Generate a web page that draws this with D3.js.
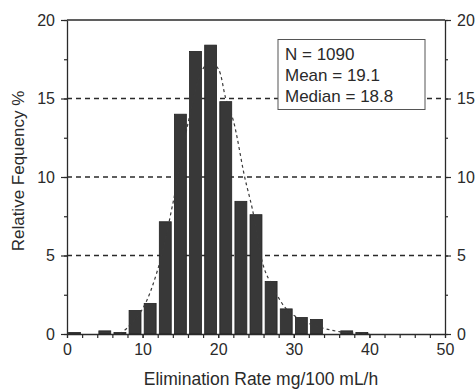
<!DOCTYPE html>
<html>
<head>
<meta charset="utf-8">
<script src="https://cdn.jsdelivr.net/npm/d3@7"></script>
<style>
  body { margin: 0; background: #fff; }
  svg { display: block; font-family: "Liberation Sans", Arial, sans-serif; }
</style>
</head>
<body>
<div class="js-hist"></div>
<script>
// histogram bins (2 mg/100 mL/h wide), centre of each bin
var binCenters = [1, 3, 5, 7, 9, 11, 13, 15, 17, 19, 21, 23, 25, 27, 29, 31, 33, 35, 37, 39];
var binFreq = [0.1, 0, 0.2, 0.1, 1.5, 1.95, 7.15, 14.0, 18.0, 18.4, 14.8, 8.45, 7.6, 3.35, 1.6, 1.05, 0.93, 0, 0.2, 0.1];

// dashed fitted curve
var curveX = [7, 8, 10, 12, 14, 16, 18, 19, 20, 21, 22, 23.5, 24.5, 26, 27, 29, 31, 33, 36, 40];
var curveY = [0, 0.4, 1.6, 4.1, 8.3, 13.4, 16.9, 17.3, 16.9, 15.0, 13.6, 10.0, 8.0, 4.3, 3.2, 1.6, 0.9, 0.5, 0.15, 0];

var xTicksMajor = [0, 10, 20, 30, 40, 50];
var yTicksMajor = [0, 5, 10, 15, 20];
var gridValues = [5, 10, 15];
var statsLines = ["N = 1090", "Mean = 19.1", "Median = 18.8"];

(function() {
  var width = 475
    , height = 390
    , left = 67
    , right = 445
    , top = 20
    , bottom = 334
    , binWidth = 2
    , ink = "#2a2a2a"
    ;

  var x = d3.scaleLinear().domain([0, 50]).range([left, right])
    , y = d3.scaleLinear().domain([0, 20]).range([bottom, top])
    ;

  var svg = d3.select('.js-hist')
        .append('svg')
          .attr('width', width)
          .attr('height', height);

  // dashed grid lines
  svg.append('g')
    .selectAll('line')
    .data(gridValues)
    .enter()
    .append('line')
      .attr('x1', left)
      .attr('x2', right)
      .attr('y1', d => y(d))
      .attr('y2', d => y(d))
      .attr('stroke', ink)
      .attr('stroke-width', 1.3)
      .attr('stroke-dasharray', '5,4');

  // bars
  var bins = binCenters.map((c, i) => ({ c: c, v: binFreq[i] }));
  svg.append('g')
    .selectAll('rect')
    .data(bins.filter(d => d.v > 0))
    .enter()
    .append('rect')
      .attr('x', d => x(d.c - binWidth / 2) + 1.6)
      .attr('width', d => x(d.c + binWidth / 2) - x(d.c - binWidth / 2) - 3.2)
      .attr('y', d => y(d.v))
      .attr('height', d => y(0) - y(d.v))
      .attr('fill', '#383838')
      .attr('stroke', '#222')
      .attr('stroke-width', 0.8);

  // fitted curve
  var line = d3.line()
    .x(d => x(d[0]))
    .y(d => y(d[1]))
    .curve(d3.curveCatmullRom);

  svg.append('path')
    .datum(curveX.map((cx, i) => [cx, curveY[i]]))
    .attr('d', line)
    .attr('fill', 'none')
    .attr('stroke', '#3a3a3a')
    .attr('stroke-width', 1.2)
    .attr('stroke-dasharray', '3,3');

  // axes
  var minorX = d3.range(0, 51, 2)
    , minorY = d3.range(0, 20.1, 2.5)
    ;

  function styleAxis(g) {
    g.selectAll('path').attr('stroke', ink).attr('stroke-width', 1.3);
    g.selectAll('line').attr('stroke', ink).attr('stroke-width', 1.2);
    g.selectAll('text').attr('fill', ink).style('font-size', '16px');
  }

  svg.append('g')
    .attr('transform', 'translate(0,' + bottom + ')')
    .call(d3.axisBottom(x).tickValues(minorX).tickSize(4).tickSizeOuter(0).tickFormat(''))
    .call(styleAxis);

  svg.append('g')
    .attr('transform', 'translate(0,' + bottom + ')')
    .call(d3.axisBottom(x).tickValues(xTicksMajor).tickSize(4).tickSizeOuter(0).tickPadding(6))
    .call(styleAxis)
    .call(g => g.select('.domain').remove());

  svg.append('g')
    .attr('transform', 'translate(' + left + ',0)')
    .call(d3.axisLeft(y).tickValues(minorY).tickSize(3).tickSizeOuter(0).tickFormat(''))
    .call(styleAxis);

  svg.append('g')
    .attr('transform', 'translate(' + left + ',0)')
    .call(d3.axisLeft(y).tickValues(yTicksMajor).tickSize(6).tickSizeOuter(0).tickPadding(6))
    .call(styleAxis)
    .call(g => g.select('.domain').remove());

  svg.append('g')
    .attr('transform', 'translate(' + right + ',0)')
    .call(d3.axisRight(y).tickValues(minorY).tickSize(3).tickSizeOuter(0).tickFormat(''))
    .call(styleAxis);

  svg.append('g')
    .attr('transform', 'translate(' + right + ',0)')
    .call(d3.axisRight(y).tickValues(yTicksMajor).tickSize(6).tickSizeOuter(0).tickPadding(6))
    .call(styleAxis)
    .call(g => g.select('.domain').remove());

  // top frame
  svg.append('line')
    .attr('x1', left).attr('x2', right)
    .attr('y1', top).attr('y2', top)
    .attr('stroke', ink)
    .attr('stroke-width', 1.5);

  // stats box
  var box = svg.append('g');
  box.append('rect')
    .attr('x', 278)
    .attr('y', 39.5)
    .attr('width', 147)
    .attr('height', 70)
    .attr('fill', '#fff')
    .attr('stroke', '#555')
    .attr('stroke-width', 1);

  box.selectAll('text')
    .data(statsLines)
    .enter()
    .append('text')
      .attr('x', 285)
      .attr('y', (d, i) => 60 + i * 20.8)
      .attr('fill', ink)
      .style('font-size', '17px')
      .text(d => d);

  // axis titles
  svg.append('text')
    .attr('x', (left + right) / 2 + 5)
    .attr('y', 385)
    .attr('text-anchor', 'middle')
    .attr('fill', ink)
    .style('font-size', '17.5px')
    .text('Elimination Rate mg/100 mL/h');

  svg.append('text')
    .attr('transform', 'translate(24,171) rotate(-90)')
    .attr('text-anchor', 'middle')
    .attr('fill', ink)
    .style('font-size', '17px')
    .text('Relative Fequency %');
})();
</script>
</body>
</html>
